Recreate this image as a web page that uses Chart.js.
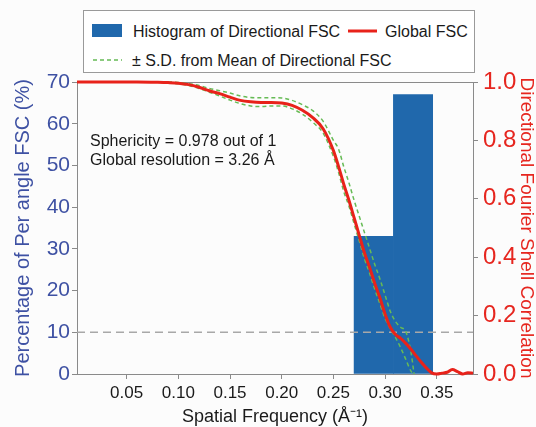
<!DOCTYPE html>
<html>
<head>
<meta charset="utf-8">
<script src="https://cdn.jsdelivr.net/npm/chart.js@4"></script>
<style>
  html, body { margin: 0; padding: 0; background: #fcfcfc; }
  #wrap { position: relative; width: 536px; height: 427px; font-family: Arial, "Liberation Sans", sans-serif; }
  canvas { position: absolute; left: 0; top: 0; }
  .abs { position: absolute; white-space: nowrap; color: #1a1a1a; }
  .txt { font-size: 16px; line-height: 19px; }
  #legendBox { position: absolute; left: 83px; top: 10px; width: 392px; height: 63px; box-sizing: border-box; border: 1px solid #9a9a9a; background: #fff; }
</style>
</head>
<body>
<div id="wrap">
  <canvas id="c" width="536" height="427"></canvas>
  <div id="legendBox"></div>
  <svg class="abs" style="left:0;top:0" width="536" height="80">
    <rect x="92" y="24" width="30" height="13" fill="#2068ac"></rect>
    <line x1="348" y1="31" x2="377" y2="31" stroke="#e8221a" stroke-width="3"></line>
    <line x1="93" y1="60" x2="122" y2="60" stroke="#66bb55" stroke-width="1.6" stroke-dasharray="4 3"></line>
  </svg>
  <div class="abs txt" id="lg1" style="left:133px;top:22px;"></div>
  <div class="abs txt" id="lg2" style="left:385px;top:22px;"></div>
  <div class="abs txt" id="lg3" style="left:132px;top:51px;"></div>
  <div class="abs txt" id="ann1" style="left:90px;top:131px;"></div>
  <div class="abs txt" id="ann2" style="left:90px;top:150px;"></div>
</div>
<script>
// ---- data ----
const fscFreq = [0.002,0.02,0.04,0.06,0.08,0.09,0.10,0.11,0.12,0.13,0.14,0.15,0.16,0.17,0.18,0.19,0.20,0.21,0.22,0.23,0.24,0.25,0.255,0.26,0.265,0.27,0.275,0.28,0.285,0.29,0.295,0.30,0.305,0.31,0.315,0.32,0.325,0.33,0.335,0.34,0.345,0.35,0.355,0.36,0.365,0.37,0.375,0.38,0.385];
const globalFsc = [1,1,1,1,0.999,0.998,0.996,0.991,0.982,0.970,0.960,0.948,0.937,0.932,0.930,0.930,0.928,0.920,0.903,0.878,0.840,0.765,0.71,0.65,0.595,0.535,0.475,0.415,0.365,0.31,0.26,0.205,0.16,0.135,0.122,0.105,0.085,0.062,0.040,0.020,0.004,0.0,0.003,0.006,0.015,0.008,0.0,0.004,0.003];
const sdFreq = [0.002,0.02,0.04,0.06,0.08,0.09,0.10,0.11,0.12,0.13,0.14,0.15,0.16,0.17,0.18,0.19,0.20,0.21,0.22,0.23,0.24,0.25,0.255,0.26,0.265,0.27,0.275,0.28,0.285,0.29,0.295,0.30,0.305,0.31,0.315,0.32,0.325,0.328];
const sdUpper = [1,1,1,1,1,1,0.998,0.994,0.988,0.978,0.970,0.962,0.952,0.947,0.946,0.946,0.945,0.937,0.922,0.902,0.866,0.80,0.77,0.71,0.655,0.595,0.54,0.485,0.43,0.375,0.325,0.27,0.215,0.18,0.16,0.145,0.075,0.0];
const sdLower = [1,1,1,1,1,0.997,0.994,0.988,0.978,0.965,0.952,0.938,0.926,0.918,0.916,0.918,0.918,0.908,0.890,0.862,0.825,0.745,0.69,0.625,0.575,0.515,0.455,0.395,0.345,0.29,0.24,0.19,0.155,0.125,0.09,0.05,0.01,0.0];
const histCenters = [0.289, 0.327];
const histPercent = [33, 67];
const thresholdPercent = 10;
const xRange = [0.002, 0.385];
const xTickValues = [0.05, 0.10, 0.15, 0.20, 0.25, 0.30, 0.35];
const leftTickValues = [0, 10, 20, 30, 40, 50, 60, 70];
const rightTickValues = [0, 0.2, 0.4, 0.6, 0.8, 1.0];
const legendLabels = ["Histogram of Directional FSC", "Global FSC", "± S.D. from Mean of Directional FSC"];
const annotationLines = ["Sphericity = 0.978 out of 1", "Global resolution = 3.26 Å"];

document.getElementById('lg1').textContent = legendLabels[0];
document.getElementById('lg2').textContent = legendLabels[1];
document.getElementById('lg3').textContent = legendLabels[2];
document.getElementById('ann1').textContent = annotationLines[0];
document.getElementById('ann2').textContent = annotationLines[1];

const FONT = 'Arial, "Liberation Sans", sans-serif';
const BLUE_TXT = '#3e51a3';
const RED_TXT = '#e6261f';
const AXIS_GRAY = '#8a8a8a';

const pts = (xs, ys) => xs.map((x, i) => ({x: x, y: ys[i]}));

const framePlugin = {
  id: 'frame',
  beforeDatasetsDraw(chart) {
    const {ctx, chartArea: a} = chart;
    ctx.save();
    ctx.strokeStyle = AXIS_GRAY;
    ctx.lineWidth = 1;
    ctx.beginPath();
    ctx.moveTo(a.left, a.top + 0.5);
    ctx.lineTo(a.right, a.top + 0.5);
    ctx.stroke();
    ctx.restore();
  }
};

new Chart(document.getElementById('c'), {
  data: {
    datasets: [
      {
        type: 'line', label: legendLabels[1], data: pts(fscFreq, globalFsc), yAxisID: 'yR',
        borderColor: '#e8221a', borderWidth: 3, pointRadius: 0, cubicInterpolationMode: 'monotone',
        clip: 6, order: 0
      },
      {
        type: 'line', label: legendLabels[2], data: pts(sdFreq, sdUpper), yAxisID: 'yR',
        borderColor: '#66bb55', borderWidth: 1.5, borderDash: [4, 3], pointRadius: 0,
        cubicInterpolationMode: 'monotone', clip: 6, order: 1
      },
      {
        type: 'line', label: 'lower', data: pts(sdFreq, sdLower), yAxisID: 'yR',
        borderColor: '#66bb55', borderWidth: 1.5, borderDash: [4, 3], pointRadius: 0,
        cubicInterpolationMode: 'monotone', clip: 6, order: 1
      },
      {
        type: 'line', label: 'threshold', data: [{x: xRange[0], y: thresholdPercent}, {x: xRange[1], y: thresholdPercent}],
        yAxisID: 'yL', borderColor: '#a8a8a8', borderWidth: 1.6, borderDash: [8, 5], pointRadius: 0, order: 2
      },
      {
        type: 'bar', label: legendLabels[0], data: pts(histCenters, histPercent), yAxisID: 'yL',
        backgroundColor: '#2068ac', borderWidth: 0, barPercentage: 1, categoryPercentage: 1, order: 3
      }
    ]
  },
  options: {
    responsive: false,
    animation: false,
    devicePixelRatio: 1,
    layout: { padding: { top: 82, left: 0, right: 0, bottom: 0 } },
    plugins: { legend: { display: false }, tooltip: { enabled: false } },
    scales: {
      x: {
        type: 'linear', position: 'bottom', min: xRange[0], max: xRange[1], offset: false,
        afterBuildTicks: s => { s.ticks = xTickValues.map(v => ({value: v})); },
        afterFit: s => { s.height = 53; },
        ticks: { callback: v => Number(v).toFixed(2), color: '#1a1a1a', font: { family: FONT, size: 17 }, padding: 4, maxRotation: 0, autoSkip: false },
        grid: { drawOnChartArea: false, offset: false, tickLength: 5, tickColor: AXIS_GRAY },
        border: { color: AXIS_GRAY, width: 1 },
        title: { display: true, text: 'Spatial Frequency (Å⁻¹)', color: '#1a1a1a', font: { family: FONT, size: 18, lineHeight: 1 }, padding: { top: 0, bottom: 1 } }
      },
      yL: {
        type: 'linear', position: 'left', min: 0, max: 70,
        afterBuildTicks: s => { s.ticks = leftTickValues.map(v => ({value: v})); },
        afterFit: s => { s.width = 77; },
        ticks: { color: BLUE_TXT, font: { family: FONT, size: 21 }, padding: 2 },
        grid: { drawOnChartArea: false, tickLength: 5, tickColor: AXIS_GRAY },
        border: { color: AXIS_GRAY, width: 1 },
        title: { display: true, text: 'Percentage of Per angle FSC (%)', color: BLUE_TXT, font: { family: FONT, size: 20, lineHeight: 1 }, padding: { top: 13, bottom: 0 } }
      },
      yR: {
        type: 'linear', position: 'right', min: 0, max: 1,
        afterBuildTicks: s => { s.ticks = rightTickValues.map(v => ({value: v})); },
        afterFit: s => { s.width = 63; },
        ticks: { callback: v => Number(v).toFixed(1), color: RED_TXT, font: { family: FONT, size: 24 }, padding: 5 },
        grid: { drawOnChartArea: false, tickLength: 5, tickColor: AXIS_GRAY },
        border: { color: AXIS_GRAY, width: 1 },
        title: { display: true, text: 'Directional Fourier Shell Correlation', color: RED_TXT, font: { family: FONT, size: 19, lineHeight: 1 }, padding: { top: 0, bottom: 0 } }
      }
    }
  },
  plugins: [framePlugin]
});
</script>
</body>
</html>
